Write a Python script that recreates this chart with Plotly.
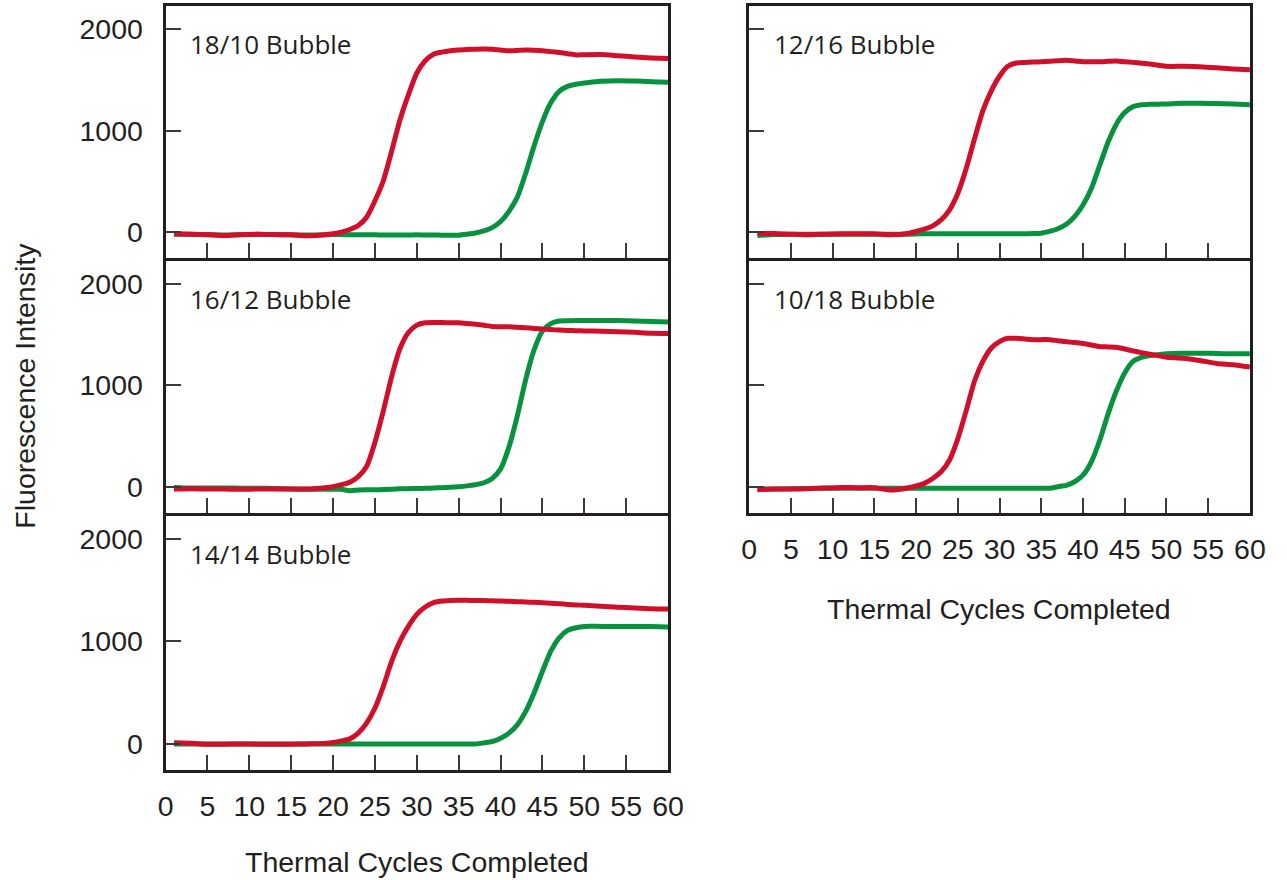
import plotly.graph_objects as go

W, H = 1287, 880

# Thermal cycle at which each reading was taken
CYCLES = [1, 3, 5, 7, 9, 11, 13, 15, 17, 19,
          20, 21, 22, 23, 24, 25, 26, 27, 28, 29,
          30, 31, 32, 33, 34, 35, 36, 37, 38, 39,
          40, 41, 42, 43, 44, 45, 46, 47, 48, 49,
          50, 52, 54, 56, 58, 60]

# 18/10 bubble
RED_18_10 = [-16, -22, -26, -33, -25, -20, -24, -26, -36, -26,
             -16, 0, 26, 65, 147, 310, 507, 800, 1111, 1356,
             1569, 1690, 1755, 1775, 1788, 1797, 1801, 1804, 1806, 1804,
             1795, 1788, 1792, 1797, 1794, 1788, 1780, 1771, 1760, 1748,
             1750, 1752, 1740, 1727, 1718, 1712]
GREEN_18_10 = [-20, -22, -24, -28, -24, -22, -24, -26, -28, -26,
               -24, -24, -26, -26, -26, -26, -28, -28, -28, -28,
               -26, -28, -28, -30, -30, -30, -20, -8, 12, 45,
               105, 205, 345, 580, 850, 1090, 1275, 1389, 1438, 1458,
               1471, 1487, 1493, 1490, 1484, 1477]

# 16/12 bubble
RED_16_12 = [-23, -20, -23, -23, -26, -23, -23, -23, -23, -10,
             0, 20, 45, 100, 200, 440, 749, 1091, 1368, 1524,
             1596, 1619, 1622, 1622, 1620, 1619, 1612, 1606, 1595, 1583,
             1581, 1580, 1575, 1570, 1564, 1557, 1552, 1547, 1544, 1541,
             1539, 1536, 1532, 1525, 1516, 1514]
GREEN_16_12 = [-7, -13, -13, -13, -15, -15, -18, -22, -26, -26,
               -26, -26, -39, -33, -30, -30, -28, -26, -20, -20,
               -18, -16, -13, -10, -6, 0, 8, 20, 39, 81,
               176, 391, 700, 1058, 1352, 1537, 1612, 1638, 1640, 1641,
               1641, 1641, 1641, 1638, 1632, 1628]

# 14/14 bubble
RED_14_14 = [10, 5, -3, -3, 0, -3, -3, -3, 0, 5,
             13, 29, 49, 105, 203, 350, 562, 807, 1003, 1150,
             1265, 1337, 1379, 1395, 1400, 1402, 1402, 1400, 1399, 1397,
             1395, 1392, 1389, 1385, 1382, 1379, 1374, 1368, 1362, 1357,
             1353, 1345, 1335, 1328, 1320, 1317]
GREEN_14_14 = [0, 0, 0, 0, 0, 0, 0, 0, 0, 0,
               0, 0, 0, 0, 0, 0, 0, 0, 0, 0,
               0, 0, 0, 0, 0, 0, 0, 0, 10, 23,
               56, 105, 186, 317, 497, 709, 905, 1036, 1108, 1134,
               1147, 1147, 1147, 1147, 1145, 1141]

# 12/16 bubble
RED_12_16 = [-13, -13, -20, -26, -20, -15, -15, -16, -26, -13,
             7, 29, 62, 121, 218, 381, 625, 918, 1195, 1391,
             1537, 1635, 1668, 1673, 1677, 1680, 1684, 1690, 1694, 1688,
             1681, 1681, 1681, 1684, 1687, 1680, 1674, 1666, 1658, 1646,
             1635, 1635, 1632, 1622, 1609, 1602]
GREEN_12_16 = [-33, -23, -20, -20, -20, -20, -20, -20, -20, -20,
               -18, -16, -16, -16, -16, -16, -16, -16, -16, -16,
               -16, -16, -16, -16, -14, -10, 7, 33, 78, 153,
               267, 430, 658, 886, 1065, 1179, 1238, 1257, 1260, 1262,
               1264, 1270, 1270, 1268, 1264, 1257]

# 10/18 bubble
RED_10_18 = [-29, -23, -23, -20, -13, -7, -10, -10, -33, -13,
             7, 33, 81, 147, 261, 472, 749, 1042, 1238, 1368,
             1433, 1466, 1466, 1460, 1453, 1453, 1453, 1443, 1433, 1424,
             1414, 1400, 1384, 1381, 1378, 1360, 1342, 1325, 1309, 1295,
             1280, 1270, 1247, 1218, 1205, 1182]
GREEN_10_18 = [-23, -23, -20, -18, -15, -15, -15, -15, -15, -15,
               -15, -15, -15, -15, -15, -15, -15, -15, -15, -15,
               -15, -15, -15, -15, -15, -15, -15, 0, 13, 49,
               114, 244, 456, 717, 945, 1124, 1238, 1277, 1296, 1305,
               1313, 1319, 1319, 1316, 1313, 1313]

PANEL_LABELS = ["18/10 Bubble", "16/12 Bubble", "14/14 Bubble",
                "12/16 Bubble", "10/18 Bubble"]
PANEL_RED = [RED_18_10, RED_16_12, RED_14_14, RED_12_16, RED_10_18]
PANEL_GREEN = [GREEN_18_10, GREEN_16_12, GREEN_14_14, GREEN_12_16, GREEN_10_18]

X_TICKS = [0, 5, 10, 15, 20, 25, 30, 35, 40, 45, 50, 55, 60]
Y_TICKS = [0, 1000, 2000]
X_TITLE = "Thermal Cycles Completed"
Y_TITLE = "Fluorescence Intensity"

RED = "#d0102b"
GREEN = "#08923f"
INK = "#231f20"
TICK_FONT = dict(family="Liberation Sans, Arial, sans-serif", size=28.5, color=INK)
LABEL_FONT = dict(family="Open Sans, Noto Sans, sans-serif", size=26, color=INK)

# pixel frames of the panels: (left, right, top, bottom); stacked frames
# overlap by the border width so the shared border is drawn only once
COL_X = [(160.6, 672.6), (755.2, 1265.5)]
ROW_Y = [(6.0, 258.0), (261.0, 512.5), (515.5, 770.0)]
# (column, row) of each panel
PLACES = [(0, 0), (0, 1), (0, 2), (1, 0), (1, 1)]
BOTTOM = {2, 4}   # panels that carry x tick labels


def px_x(v):
    return v / W


def px_y(v):
    return 1 - v / H


fig = go.Figure()
layout = dict(
    width=W, height=H,
    margin=dict(l=0, r=0, t=0, b=0),
    paper_bgcolor="white", plot_bgcolor="white",
    showlegend=False,
)
annotations = []

for i, (label, red, green, (col, row)) in enumerate(
        zip(PANEL_LABELS, PANEL_RED, PANEL_GREEN, PLACES)):
    n = "" if i == 0 else str(i + 1)
    xa, ya = "x" + n, "y" + n
    x0, x1 = COL_X[col]
    y0, y1 = ROW_Y[row]

    fig.add_trace(go.Scatter(x=CYCLES, y=green, xaxis=xa, yaxis=ya, mode="lines",
                             line=dict(color=GREEN, width=5, shape="spline", smoothing=0.6),
                             hoverinfo="skip"))
    fig.add_trace(go.Scatter(x=CYCLES, y=red, xaxis=xa, yaxis=ya, mode="lines",
                             line=dict(color=RED, width=5, shape="spline", smoothing=0.6),
                             hoverinfo="skip"))

    layout["xaxis" + n] = dict(
        domain=[px_x(x0), px_x(x1)], anchor=ya, range=[0, 60],
        tickmode="array", tickvals=X_TICKS, ticktext=[str(t) for t in X_TICKS],
        ticks="inside", ticklen=15, tickwidth=1.5, tickcolor="#3a3a3a",
        showticklabels=i in BOTTOM, tickfont=TICK_FONT, ticklabelstandoff=9,
        showline=True, linewidth=3, linecolor=INK, mirror=True,
        showgrid=False, zeroline=False, fixedrange=True,
    )
    layout["yaxis" + n] = dict(
        domain=[px_y(y1), px_y(y0)], anchor=xa, range=[-255, 2230],
        tickmode="array", tickvals=Y_TICKS, ticktext=[str(t) for t in Y_TICKS],
        ticks="inside", ticklen=15, tickwidth=1.5, tickcolor="#3a3a3a",
        showticklabels=(col == 0), tickfont=TICK_FONT, ticklabelstandoff=14,
        showline=True, linewidth=3, linecolor=INK, mirror=True,
        showgrid=False, zeroline=False, fixedrange=True,
    )
    annotations.append(dict(
        text=label, xref="paper", yref="paper",
        x=px_x(x0 + 23), y=px_y(y0 + 38), xanchor="left", yanchor="middle",
        showarrow=False, font=LABEL_FONT,
    ))

# axis titles
annotations.append(dict(text=X_TITLE, xref="paper", yref="paper",
                        x=px_x(416.6), y=px_y(862), xanchor="center", yanchor="middle",
                        showarrow=False, font=TICK_FONT))
annotations.append(dict(text=X_TITLE, xref="paper", yref="paper",
                        x=px_x(1010.3), y=px_y(609), xanchor="center", yanchor="middle",
                        showarrow=False, font=TICK_FONT))
annotations.append(dict(text=Y_TITLE, xref="paper", yref="paper",
                        x=px_x(17), y=px_y(386), xanchor="center", yanchor="middle",
                        textangle=-90, showarrow=False, font=TICK_FONT))

layout["annotations"] = annotations
fig.update_layout(**layout)
fig.write_html("out.html")
